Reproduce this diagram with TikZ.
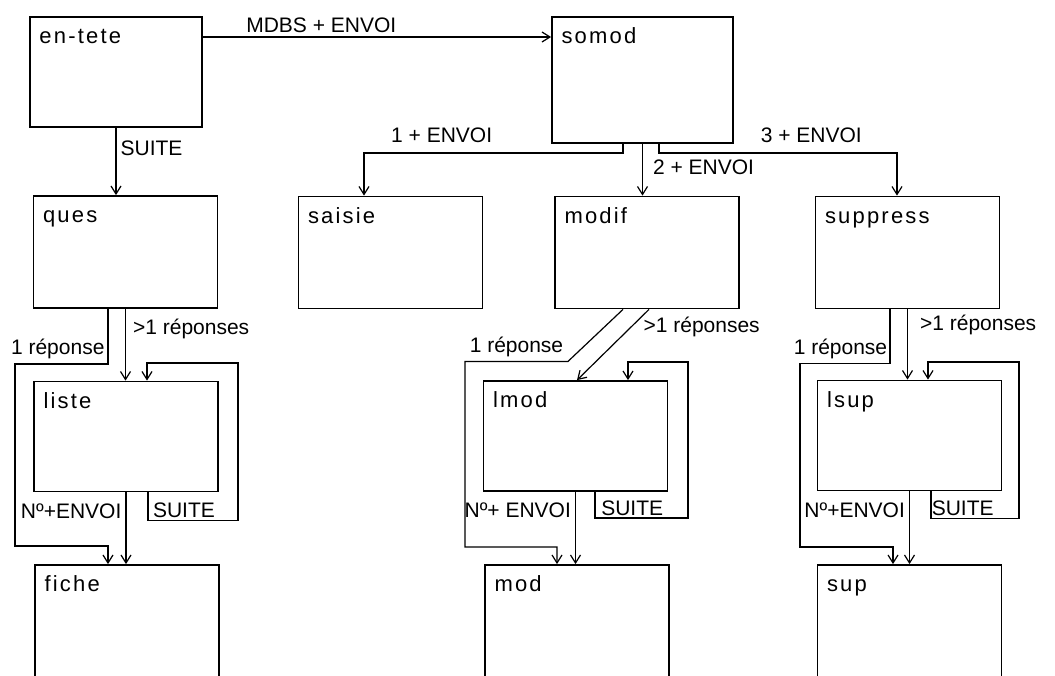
\documentclass[tikz,border=0pt]{standalone}
\usepackage{fontspec}
\setmainfont{Liberation Sans}
\newfontfamily\boxfont[LetterSpace=10]{Liberation Sans}
\usetikzlibrary{arrows.meta}

\tikzset{
  box/.style={draw, line width=0.9pt, minimum width=92pt, minimum height=55pt, inner sep=0pt,
    label={[anchor=north west, inner sep=0pt, text height=8pt, xshift=5pt, yshift=-5.5pt,
      font=\boxfont\fontsize{11}{13}\selectfont]north west:#1}},
  link/.style={line width=0.6pt},
  txt/.style={font=\fontsize{10.5}{12}\selectfont, inner sep=2pt},
  >={Straight Barb[length=4pt,width=5pt]}
}

\begin{document}
\begin{tikzpicture}[x=0.5pt, y=-0.5pt]
\useasboundingbox (0,0) rectangle (1055,675);
\clip (0,0) rectangle (1055,675);

    % Top row
    \node[box=en-tete, minimum width=86pt] (entete) at (116,72) {};
    \node[box=somod, minimum width=90.5pt, minimum height=63pt] (somod) at (642.5,80) {};

    % Second row
    \node[box=ques, minimum height=56pt] (ques) at (125.5,252) {};
    \node[box=saisie, minimum height=56pt] (saisie) at (390.5,252.5) {};
    \node[box=modif, minimum height=56pt] (modif) at (647,252.5) {};
    \node[box=suppress, minimum height=56pt] (suppress) at (907.5,252.5) {};

    % Lists
    \node[box=liste] (liste) at (126,436.5) {};
    \node[box=lmod] (lmod) at (575.5,436) {};
    \node[box=lsup] (lsup) at (909.5,435.5) {};

    % Bottom row, cut by the page
    \node[box=fiche, minimum height=70pt] (fiche) at (127,635) {};
    \node[box=mod, minimum height=70pt] (mod) at (577,635) {};
    \node[box=sup, minimum height=70pt] (sup) at (909.5,635) {};

    % From en-tete
    \draw[link,->] ([yshift=17.5pt]entete.east) coordinate (mdbs) -- (mdbs -| somod.west)
        node[txt, above, pos=0.34] {MDBS + ENVOI};
    \draw[link,->] (entete.south) -- (entete.south |- ques.north)
        node[txt, right, pos=0.3] {SUITE};

    % From somod
    \draw[link,->] ([xshift=-9.75pt]somod.south) -- ++(0,9) -| ([xshift=-13.25pt]saisie.north)
        node[txt, above=3pt, pos=0.35] {1 + ENVOI};
    \draw[link,->] (somod.south) -- (somod.south |- modif.north)
        node[txt, right=3pt, pos=0.46] {2 + ENVOI};
    \draw[link,->] ([xshift=8.25pt]somod.south) -- ++(0,9) -| ([xshift=-5.25pt]suppress.north)
        node[txt, above=3pt, pos=0.32] {3 + ENVOI};

    % Left column
    \draw[link,->] (ques.south) -- (ques.south |- liste.north)
        node[txt, right=1.5pt, pos=0.28] {>1 réponses};
    \draw[link,->] ([xshift=-8.75pt]ques.south) -- ++(0,55) -| (15,546)
        node[txt, above, pos=0.27] {1 réponse}
        -| ([xshift=-9.5pt]fiche.north);
    \draw[link,->] (liste.south) -- (liste.south |- fiche.north)
        node[txt, left, pos=0.26] {Nº+ENVOI};
    \draw[link,->] ([xshift=11pt]liste.south) -- ++(0,28) -| (238,363)
        node[txt, above=-1pt, pos=0.2] {SUITE}
        -| ([xshift=10.5pt]liste.north);

    % Middle column
    \draw[link,->] ([xshift=1pt]modif.south) -- ([xshift=0.75pt]lmod.north)
        node[txt, right=4pt, pos=0.25] {>1 réponses};
    \draw[link,->] ([xshift=-12pt]modif.south) -- ++(-55,52) -| (465,547)
        node[txt, above, pos=0.25] {1 réponse}
        -| ([xshift=-10pt]mod.north);
    \draw[link,->] (lmod.south) -- (lmod.south |- mod.north)
        node[txt, left, pos=0.26] {Nº+ ENVOI};
    \draw[link,->] ([xshift=9.75pt]lmod.south) -- ++(0,26) -| (688,362)
        node[txt, above=-1pt, pos=0.2] {SUITE}
        -| ([xshift=26.25pt]lmod.north);

    % Right column
    \draw[link,->] (suppress.south) -- (suppress.south |- lsup.north)
        node[txt, right=4pt, pos=0.22] {>1 réponses};
    \draw[link,->] ([xshift=-8.75pt]suppress.south) -- ++(0,54) -| (800,547)
        node[txt, above, pos=0.275] {1 réponse}
        -| ([xshift=-8.25pt]sup.north);
    \draw[link,->] (lsup.south) -- (lsup.south |- sup.north)
        node[txt, left, pos=0.26] {Nº+ENVOI};
    \draw[link,->] ([xshift=10.75pt]lsup.south) -- ++(0,27) -| (1019,362)
        node[txt, above=-1pt, pos=0.18] {SUITE}
        -| ([xshift=9.25pt]lsup.north);

\end{tikzpicture}
\end{document}
